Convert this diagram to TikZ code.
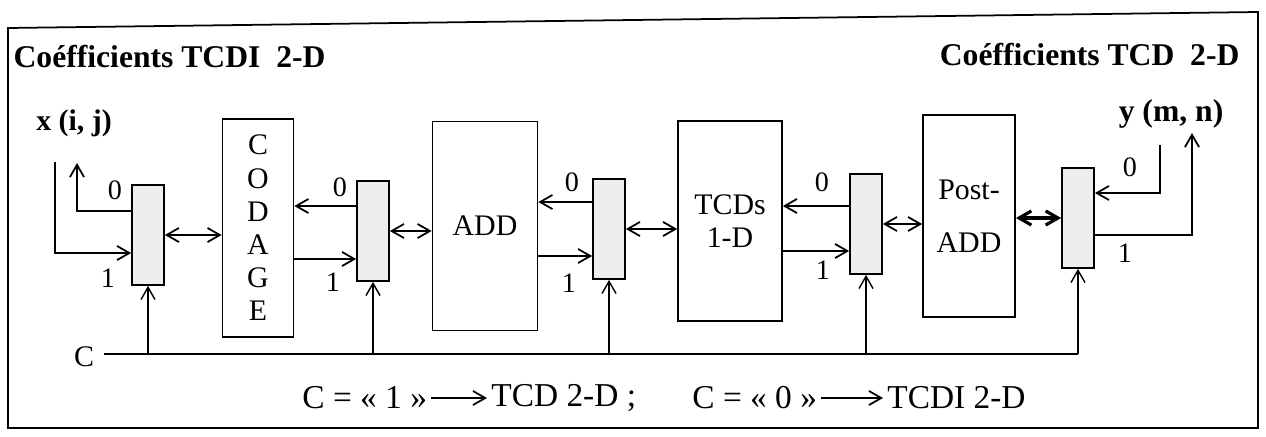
\documentclass[tikz,border=0pt]{standalone}
\usepackage{fontspec}
\setmainfont{Liberation Serif}
\usetikzlibrary{arrows.meta}
\definecolor{muxgray}{HTML}{EEEEEE}

\begin{document}
\begin{tikzpicture}[x=0.02cm,y=-0.02cm,>={Straight Barb[length=7pt,width=8pt]},line width=1pt,
  every node/.style={font=\fontsize{16}{18}\selectfont,inner sep=1pt},
  blk/.style={draw,font=\fontsize{17}{19}\selectfont,align=center},
  mux/.style={draw,fill=muxgray,minimum width=6.4mm,minimum height=20mm,inner sep=0pt},
  titre/.style={font=\bfseries\fontsize{18}{20}\selectfont},
  leg/.style={font=\fontsize{19}{21}\selectfont,anchor=west,inner sep=2pt}]
\useasboundingbox (0,0) rectangle (1266,436);
% cadre
\draw (8,28) -- (1258,12) -- (1258,428) -- (8,428) -- cycle;
\node[titre,anchor=west] (titg) at (11,57) {Coéfficients TCDI\ \ 2-D};
\node[titre,anchor=east] (titd) at (1242,55) {Coéfficients TCD\ \ 2-D};
\node[font=\bfseries\fontsize{17}{19}\selectfont] (xij) at (74,123) {x (i, j)};
\node[font=\bfseries\fontsize{18}{20}\selectfont] (ymn) at (1171,114) {y (m, n)};
% blocs
\node[blk,minimum width=14.2mm,minimum height=43.6mm,font=\fontsize{17}{18.9}\selectfont] (cod) at (258,228) {C\\O\\D\\A\\G\\E};
\node[blk,minimum width=21mm,minimum height=41.8mm] (add) at (485,226) {ADD};
\node[blk,minimum width=20.8mm,minimum height=40mm] (tcd) at (730,221) {TCDs\\1-D};
\node[blk,minimum width=18.4mm,minimum height=40.4mm,font=\fontsize{17}{30}\selectfont] (post) at (969,216) {Post-\\ADD};
% multiplexeurs
\node[mux] (m1) at (148,235) {};
\node[mux] (m2) at (373,231) {};
\node[mux] (m3) at (609,229) {};
\node[mux] (m4) at (866,224) {};
\node[mux] (m5) at (1078,218) {};
% liaisons
\draw[<->] (m1.east) -- (m1.east -| cod.west);
\draw[<->] (m2.east) -- (m2.east -| add.west);
\draw[<->] (m3.east) -- (m3.east -| tcd.west);
\draw[<->] (m4.east) -- (m4.east -| post.west);
\draw[<->,line width=1.8pt] (m5.west) -- (m5.west -| post.east);
\draw[->] ([yshift=5mm]m2.west) -- ([yshift=5mm]m2.west -| cod.east);
\draw[->] ([yshift=-5.6mm]m2.west -| cod.east) -- ([yshift=-5.6mm]m2.west);
\draw[->] ([yshift=5.4mm]m3.west) -- ([yshift=5.4mm]m3.west -| add.east);
\draw[->] ([yshift=-5.4mm]m3.west -| add.east) -- ([yshift=-5.4mm]m3.west);
\draw[->] ([yshift=3.6mm]m4.west) -- ([yshift=3.6mm]m4.west -| tcd.east);
\draw[->] ([yshift=-5.4mm]m4.west -| tcd.east) -- ([yshift=-5.4mm]m4.west);
% entrees / sorties
\coordinate (xs0) at (77,163);
\coordinate (xe1) at (55,162);
\coordinate (ye0) at (1160,145);
\coordinate (ys1) at (1192,133);
\draw[->] ([yshift=4.8mm]m1.west) -| (xs0);
\draw[->] (xe1) |- ([yshift=-3.6mm]m1.west);
\draw[->] (ye0) |- ([yshift=5mm]m5.east);
\draw[->] ([yshift=-3.4mm]m5.east) -| (ys1);
\node (z1) at (115,190) {0}; \node (u1) at (108,278) {1};
\node (z2) at (340,187) {0}; \node (u2) at (333,282) {1};
\node (z3) at (572,182) {0}; \node (u3) at (569,283) {1};
\node (z4) at (822,182) {0}; \node (u4) at (823,270) {1};
\node (z5) at (1130,167) {0}; \node (u5) at (1125,253) {1};
% commande
\node[font=\fontsize{17}{19}\selectfont] (cl) at (84,357) {C};
\coordinate (c0) at (104,354);
\draw (c0) -- (c0 -| m5);
\foreach \m in {m1,m2,m3,m4,m5}
  \draw[->,line width=0.8pt] (c0 -| \m) -- (\m.south);
% legende
\node[leg] (c1) at (298,398) {C = «\ 1\ »};
\node[leg] (t1) at (487,398) {TCD 2-D ;};
\node[leg] (c2) at (688,398) {C = «\ 0\ »};
\node[leg] (t2) at (883,398) {TCDI 2-D};
\draw[->] (c1) -- (t1);
\draw[->] (c2) -- (t2);
\end{tikzpicture}
\end{document}
